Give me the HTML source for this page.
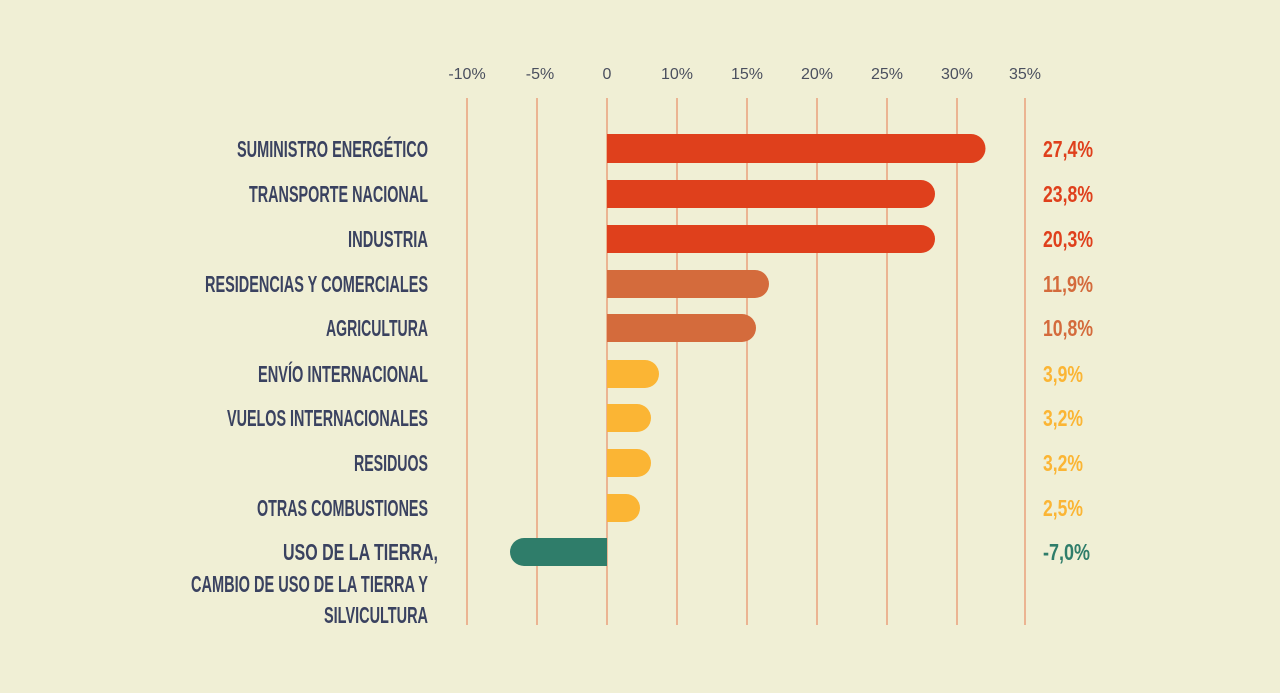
<!DOCTYPE html>
<html><head><meta charset="utf-8"><style>
html,body{margin:0;padding:0;background:#f0efd5;}
svg{display:block}
.lab{font-family:"Liberation Sans Narrow","Liberation Sans",sans-serif;font-weight:bold;font-size:23px;fill:#3a4260}
.tk{font-family:"Liberation Sans",sans-serif;font-size:16px;fill:#4a4f5e}
.v{font-family:"Liberation Sans Narrow","Liberation Sans",sans-serif;font-weight:bold;font-size:23px}
</style></head><body>
<svg width="1280" height="693" xmlns="http://www.w3.org/2000/svg">
<rect width="1280" height="693" fill="#f0efd5"/>
<g stroke="#e9a07c" stroke-width="1.5">
<line x1="467" y1="98" x2="467" y2="625"/><line x1="537" y1="98" x2="537" y2="625"/><line x1="607" y1="98" x2="607" y2="625"/><line x1="677" y1="98" x2="677" y2="625"/><line x1="747" y1="98" x2="747" y2="625"/><line x1="817" y1="98" x2="817" y2="625"/><line x1="887" y1="98" x2="887" y2="625"/><line x1="957" y1="98" x2="957" y2="625"/><line x1="1025" y1="98" x2="1025" y2="625"/>
</g>
<g class="tk" text-anchor="middle">
<text x="467" y="79">-10%</text><text x="540" y="79">-5%</text><text x="607" y="79">0</text><text x="677" y="79">10%</text><text x="747" y="79">15%</text><text x="817" y="79">20%</text><text x="887" y="79">25%</text><text x="957" y="79">30%</text><text x="1025" y="79">35%</text>
</g>
<g>
<path d="M607 134H971a14.5 14.5 0 0 1 0 29H607Z" fill="#df401c"/>
<path d="M607 180H921a14 14 0 0 1 0 28H607Z" fill="#df401c"/>
<path d="M607 225H921a14 14 0 0 1 0 28H607Z" fill="#df401c"/>
<path d="M607 270H755a14 14 0 0 1 0 28H607Z" fill="#d46b3c"/>
<path d="M607 314H742a14 14 0 0 1 0 28H607Z" fill="#d46b3c"/>
<path d="M607 360H645a14 14 0 0 1 0 28H607Z" fill="#fbb534"/>
<path d="M607 404H637a14 14 0 0 1 0 28H607Z" fill="#fbb534"/>
<path d="M607 449H637a14 14 0 0 1 0 28H607Z" fill="#fbb534"/>
<path d="M607 494H626a14 14 0 0 1 0 28H607Z" fill="#fbb534"/>
<path d="M607 538H524a14 14 0 0 0 0 28H607Z" fill="#2f7d6a"/>
</g>
<g class="lab" text-anchor="end">
<text x="428" y="157" textLength="191" lengthAdjust="spacingAndGlyphs">SUMINISTRO ENERGÉTICO</text>
<text x="428" y="202" textLength="179" lengthAdjust="spacingAndGlyphs">TRANSPORTE NACIONAL</text>
<text x="428" y="247" textLength="80" lengthAdjust="spacingAndGlyphs">INDUSTRIA</text>
<text x="428" y="292" textLength="223" lengthAdjust="spacingAndGlyphs">RESIDENCIAS Y COMERCIALES</text>
<text x="428" y="336" textLength="102" lengthAdjust="spacingAndGlyphs">AGRICULTURA</text>
<text x="428" y="382" textLength="170" lengthAdjust="spacingAndGlyphs">ENVÍO INTERNACIONAL</text>
<text x="428" y="426" textLength="201" lengthAdjust="spacingAndGlyphs">VUELOS INTERNACIONALES</text>
<text x="428" y="471" textLength="74" lengthAdjust="spacingAndGlyphs">RESIDUOS</text>
<text x="428" y="516" textLength="171" lengthAdjust="spacingAndGlyphs">OTRAS COMBUSTIONES</text>
<text x="438" y="560" textLength="155" lengthAdjust="spacingAndGlyphs">USO DE LA TIERRA,</text>
<text x="428" y="592" textLength="237" lengthAdjust="spacingAndGlyphs">CAMBIO DE USO DE LA TIERRA Y</text>
<text x="428" y="623" textLength="104" lengthAdjust="spacingAndGlyphs">SILVICULTURA</text>
</g>
<g class="v">
<text x="1043" y="157" fill="#df401c" textLength="50" lengthAdjust="spacingAndGlyphs">27,4%</text>
<text x="1043" y="202" fill="#df401c" textLength="50" lengthAdjust="spacingAndGlyphs">23,8%</text>
<text x="1043" y="247" fill="#df401c" textLength="50" lengthAdjust="spacingAndGlyphs">20,3%</text>
<text x="1043" y="292" fill="#d46b3c" textLength="50" lengthAdjust="spacingAndGlyphs">11,9%</text>
<text x="1043" y="336" fill="#d46b3c" textLength="50" lengthAdjust="spacingAndGlyphs">10,8%</text>
<text x="1043" y="382" fill="#fbb534" textLength="40" lengthAdjust="spacingAndGlyphs">3,9%</text>
<text x="1043" y="426" fill="#fbb534" textLength="40" lengthAdjust="spacingAndGlyphs">3,2%</text>
<text x="1043" y="471" fill="#fbb534" textLength="40" lengthAdjust="spacingAndGlyphs">3,2%</text>
<text x="1043" y="516" fill="#fbb534" textLength="40" lengthAdjust="spacingAndGlyphs">2,5%</text>
<text x="1043" y="560" fill="#2f7d6a" textLength="47" lengthAdjust="spacingAndGlyphs">-7,0%</text>
</g>
</svg>
</body></html>
